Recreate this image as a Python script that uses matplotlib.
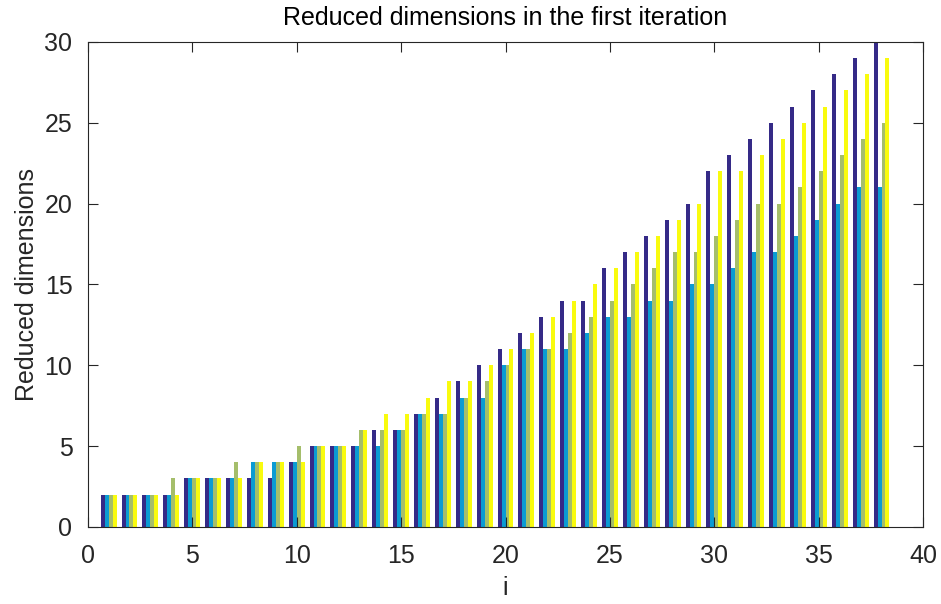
import matplotlib
matplotlib.use("Agg")
import matplotlib.pyplot as plt
import numpy as np

plt.rcParams['font.family'] = ['Liberation Sans', 'DejaVu Sans']

i_vals = list(range(1, 39))
series_a = [2, 2, 2, 2, 3, 3, 3, 3, 3, 4, 5, 5, 5, 6, 6, 7, 8, 9, 10, 11,
            12, 13, 14, 14, 16, 17, 18, 19, 20, 22, 23, 24, 25, 26, 27, 28, 29, 30]
series_b = [2, 2, 2, 2, 3, 3, 3, 4, 4, 4, 5, 5, 5, 5, 6, 7, 7, 8, 8, 10,
            11, 11, 11, 12, 13, 13, 14, 14, 15, 15, 16, 17, 17, 18, 19, 20, 21, 21]
series_c = [2, 2, 2, 3, 3, 3, 4, 4, 4, 5, 5, 5, 6, 6, 6, 7, 7, 8, 9, 10,
            11, 11, 12, 13, 14, 15, 16, 17, 17, 18, 19, 20, 20, 21, 22, 23, 24, 25]
series_d = [2, 2, 2, 2, 3, 3, 3, 4, 4, 4, 5, 5, 6, 7, 7, 8, 9, 9, 10, 11,
            12, 13, 14, 15, 16, 17, 18, 19, 20, 22, 22, 23, 24, 25, 26, 27, 28, 29]

colors = ['#352a87', '#0b9bd3', '#a5be6b', '#f9fb0e']
series = [series_a, series_b, series_c, series_d]

fig = plt.figure(figsize=(9.41, 6.04), dpi=100)
ax = fig.add_axes([0.0932, 0.1275, 0.888, 0.803])

x = np.array(i_vals, dtype=float)
w = 0.19
offsets = [-1.5 * w, -0.5 * w, 0.5 * w, 1.5 * w]
for s, c, o in zip(series, colors, offsets):
    ax.bar(x + o, s, width=w, color=c, edgecolor='none', linewidth=0)

ax.set_xlim(0, 40)
ax.set_ylim(0, 30)
ax.set_xticks([0, 5, 10, 15, 20, 25, 30, 35, 40])
ax.set_yticks([0, 5, 10, 15, 20, 25, 30])
ax.tick_params(direction='in', top=True, right=True, length=7, width=0.8,
               colors='#262626', labelsize=18)
ax.tick_params(axis='y', pad=11)
ax.tick_params(axis='x', pad=12)
for sp in ax.spines.values():
    sp.set_color('#262626')
    sp.set_linewidth(0.8)

ax.set_xlabel('i', fontsize=18, color='#262626', labelpad=6)
ax.set_ylabel('Reduced dimensions', fontsize=18, color='#262626', labelpad=4)
ax.set_title('Reduced dimensions in the first iteration', fontsize=18,
             color='#000000', pad=12)

fig.savefig('out.png', dpi=100)
